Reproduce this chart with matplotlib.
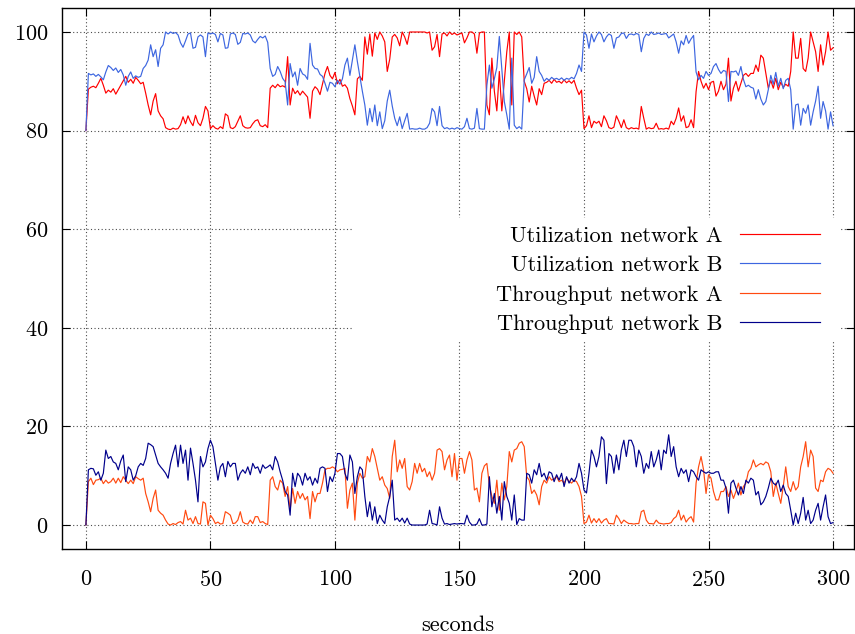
import numpy as np
import matplotlib
matplotlib.use("Agg")
import matplotlib.pyplot as plt
from matplotlib.patches import Rectangle

# tiempo en segundos (una muestra por segundo)
seconds = np.arange(301)

util_a = [
    80.0, 88.4, 88.8, 89.0, 88.7, 89.6, 90.6, 89.2, 87.6, 88.2,
    87.8, 88.5, 87.4, 88.3, 89.2, 90.1, 91.0, 89.8, 90.4, 89.6,
    90.8, 90.2, 89.5, 89.8, 87.6, 85.2, 83.2, 86.0, 87.5, 84.0,
    83.0, 82.4, 80.6, 80.3, 80.2, 80.5, 80.3, 80.4, 81.2, 82.8,
    81.4, 83.0, 81.8, 81.0, 83.1, 81.6, 81.0, 82.5, 84.9, 84.0,
    80.4, 81.0, 80.5, 80.3, 80.8, 80.4, 83.4, 83.0, 80.6, 80.4,
    80.8, 81.9, 83.0, 81.0, 80.6, 80.5, 80.6, 81.4, 82.0, 82.2,
    81.0, 80.8, 81.2, 80.6, 88.6, 89.2, 88.7, 89.4, 88.9, 89.1,
    88.8, 95.0, 85.2, 88.6, 87.5, 88.1, 87.2, 88.0, 87.4, 86.8,
    82.5, 88.0, 88.9, 88.4, 87.3, 89.5, 91.6, 93.0, 91.2, 90.5,
    91.8, 89.5, 90.4, 89.0, 89.3, 88.6, 86.5, 85.0, 83.2, 90.5,
    91.0, 90.2, 99.0, 95.5, 99.6, 95.1, 99.8, 98.5, 100.0, 99.2,
    98.0, 92.0, 94.5, 99.0, 99.5, 98.8, 97.2, 100.0, 99.0, 97.5,
    100.0, 100.0, 100.0, 100.0, 100.0, 100.0, 100.0, 99.8, 100.0, 96.3,
    97.0, 99.5, 95.0, 99.6, 99.8, 99.2, 100.0, 99.5, 99.8, 99.4,
    99.6, 99.8, 97.8, 98.8, 100.0, 100.0, 99.6, 95.7, 99.8, 100.0,
    100.0, 85.2, 83.2, 94.7, 88.0, 84.0, 92.0, 84.0, 90.0, 96.0,
    100.0, 85.2, 100.0, 99.5, 100.0, 99.0, 90.0, 88.5, 85.8, 89.0,
    87.0, 85.2, 88.5, 87.3, 89.6, 89.8, 90.2, 89.6, 90.4, 89.8,
    90.0, 89.6, 90.3, 89.7, 90.1, 89.6, 90.2, 88.6, 87.3, 88.2,
    80.4, 81.0, 83.0, 80.6, 81.9, 81.5, 81.9, 80.8, 83.0, 82.0,
    80.6, 80.4, 80.7, 83.0, 81.9, 80.6, 82.2, 80.6, 80.3, 80.6,
    80.4, 80.5, 80.3, 84.9, 82.5, 80.3, 80.6, 80.4, 80.5, 81.5,
    80.3, 80.4, 80.3, 80.5, 80.3, 81.9, 81.2, 82.5, 84.6, 81.9,
    83.0, 80.6, 80.8, 82.2, 80.6, 87.9, 92.0, 90.0, 88.6, 89.6,
    88.3, 89.8, 90.0, 87.0, 88.0, 90.0, 88.3, 89.4, 94.7, 86.0,
    88.6, 90.0, 88.0, 89.6, 91.2, 91.6, 91.0, 91.6, 91.6, 93.3,
    92.0, 95.3, 94.7, 91.6, 88.6, 90.2, 88.6, 90.6, 88.3, 89.8,
    88.8, 89.4, 89.0, 92.0, 100.0, 94.7, 94.7, 98.7, 92.6, 92.0,
    94.7, 100.0, 98.0, 96.0, 92.0, 97.4, 93.3, 96.0, 100.0, 96.3, 96.8,
]

util_b = [
    80.0, 91.6, 91.3, 91.5, 91.0, 91.4, 90.9, 90.3, 91.9, 93.2,
    92.8, 92.2, 92.7, 91.8, 92.4, 91.3, 89.2, 91.0, 91.9, 90.6,
    91.1, 90.8, 91.0, 92.6, 93.2, 94.3, 97.4, 95.0, 96.4, 93.0,
    96.7, 97.4, 100.0, 99.6, 100.0, 99.7, 99.9, 99.4, 97.8, 96.9,
    98.2, 99.6, 99.8, 96.7, 96.9, 99.0, 99.4, 99.0, 95.0, 99.8,
    99.6, 99.8, 99.5, 98.0, 99.7, 99.4, 96.7, 96.8, 99.6, 99.8,
    99.5, 97.5, 97.9, 99.7, 99.6, 99.8, 99.4, 98.2, 97.8, 98.5,
    99.1, 98.8, 99.2, 97.9, 92.6, 91.0, 91.4, 93.0, 92.0, 90.6,
    89.9, 85.2, 93.6, 90.9, 91.9, 89.2, 92.6, 91.5, 91.2, 90.4,
    97.7, 93.3, 92.6, 92.5, 91.4, 91.0, 89.6, 88.0, 89.8, 89.6,
    88.9, 90.2, 89.4, 90.5, 93.3, 94.7, 91.2, 94.3, 97.4, 94.0,
    91.0, 88.0, 85.2, 81.1, 84.5, 81.8, 85.2, 81.0, 83.8, 80.4,
    82.0, 86.0, 88.2, 85.0, 82.5, 81.0, 82.8, 80.4, 82.0, 83.5,
    80.3, 80.4, 80.3, 80.3, 80.5, 80.3, 80.3, 80.6, 81.5, 84.5,
    83.8, 81.0, 84.9, 81.0, 80.4, 80.6, 80.3, 80.5, 80.3, 80.6,
    80.4, 80.3, 80.8, 82.5, 80.4, 80.3, 80.5, 84.5, 80.4, 80.3,
    80.3, 89.2, 93.3, 88.6, 90.5, 92.8, 99.1, 92.6, 85.9, 83.2,
    80.3, 94.7, 81.1, 80.4, 80.8, 80.3, 90.3, 91.5, 92.8, 89.6,
    90.8, 95.0, 92.0, 91.2, 90.0, 90.6, 90.2, 90.8, 90.4, 90.6,
    90.3, 90.7, 90.2, 90.6, 90.4, 90.8, 90.5, 91.6, 93.3, 92.0,
    100.0, 99.4, 96.7, 99.6, 98.0, 99.2, 100.0, 99.5, 98.0, 99.0,
    99.6, 99.3, 96.7, 98.8, 99.0, 99.7, 99.8, 98.7, 99.5, 99.6,
    99.4, 99.7, 99.5, 96.0, 98.7, 99.6, 99.3, 100.0, 99.5, 99.6,
    99.8, 99.5, 99.6, 99.7, 98.8, 99.2, 99.6, 98.0, 95.7, 98.2,
    97.4, 99.3, 97.7, 98.6, 99.3, 91.9, 90.3, 91.2, 90.6, 92.0,
    91.2, 91.6, 93.0, 93.6, 92.4, 91.6, 92.2, 92.0, 85.9, 92.0,
    91.9, 92.1, 91.2, 93.0, 90.4, 88.9, 89.2, 88.8, 88.6, 86.4,
    88.3, 86.4, 85.2, 85.9, 88.3, 91.2, 89.4, 91.8, 89.0, 90.6,
    88.5, 90.2, 90.6, 88.3, 80.3, 85.2, 85.4, 81.1, 84.5, 83.5,
    85.2, 81.1, 83.8, 86.0, 89.0, 82.5, 85.9, 84.0, 80.3, 83.8, 81.0,
]

thr_a = [
    0.0, 8.8, 9.5, 8.2, 9.1, 9.2, 9.5, 8.4, 9.1, 8.5,
    8.8, 9.5, 8.5, 9.5, 8.6, 9.8, 9.1, 8.4, 9.1, 8.4,
    9.8, 9.4, 9.1, 9.5, 6.4, 4.7, 2.7, 5.4, 7.1, 3.0,
    2.4, 2.0, 1.0, 0.2, 0.0, 0.3, 0.1, 0.5, 0.7, 0.2,
    3.0, 1.0, 1.4, 0.3, 1.7, 0.3, 0.2, 4.7, 4.4, 0.0,
    2.0, 1.3, 0.3, 0.6, 0.2, 0.3, 2.7, 2.4, 2.0, 0.3,
    0.4, 1.0, 2.7, 0.6, 0.3, 0.2, 1.0, 0.3, 1.7, 1.7,
    0.5, 0.7, 0.3, 0.1, 9.1, 9.8, 7.8, 7.1, 9.1, 8.5,
    5.8, 7.8, 3.0, 7.4, 4.4, 6.8, 5.4, 6.4, 5.1, 5.8,
    1.3, 6.8, 4.7, 6.4, 6.4, 8.5, 11.2, 11.5, 11.5, 11.8,
    11.5, 10.8, 11.2, 11.3, 11.5, 3.4, 7.1, 8.5, 1.0, 8.5,
    10.5, 9.5, 9.8, 13.9, 12.8, 15.5, 13.9, 11.5, 9.1, 9.8,
    8.1, 7.4, 5.4, 13.9, 17.2, 10.8, 13.2, 11.5, 13.5, 7.8,
    7.1, 8.8, 12.5, 10.5, 12.5, 10.8, 11.5, 9.8, 10.8, 9.1,
    10.5, 15.2, 15.5, 14.9, 11.2, 13.2, 14.2, 9.8, 14.5, 9.1,
    13.5, 13.5, 10.5, 13.2, 14.9, 13.2, 7.1, 7.5, 4.7, 10.5,
    12.0, 12.5, 8.1, 5.8, 4.4, 9.1, 3.0, 8.5, 5.1, 7.8,
    14.9, 12.8, 15.2, 15.5, 16.6, 16.9, 15.9, 9.8, 9.1, 6.4,
    7.1, 6.1, 4.1, 7.8, 9.1, 8.5, 9.8, 9.1, 9.4, 9.8,
    8.8, 9.1, 8.5, 9.5, 8.9, 8.5, 9.1, 8.8, 7.8, 5.8,
    0.3, 0.6, 2.0, 0.4, 1.3, 0.5, 1.3, 0.4, 1.0, 1.3,
    0.3, 0.3, 0.2, 2.0, 1.3, 0.3, 1.0, 0.6, 0.3, 0.3,
    0.2, 0.3, 0.3, 2.7, 3.0, 1.0, 0.3, 0.3, 0.2, 1.0,
    0.4, 0.3, 0.2, 0.3, 0.3, 0.5, 1.3, 1.7, 3.0, 1.0,
    2.0, 0.6, 1.3, 1.7, 0.6, 8.5, 11.8, 13.9, 11.2, 6.4,
    10.2, 9.5, 6.8, 5.1, 5.1, 6.8, 6.8, 7.8, 5.8, 7.1,
    5.4, 6.8, 8.5, 6.1, 7.8, 8.5, 10.8, 11.5, 13.2, 11.8,
    12.2, 12.5, 12.2, 12.8, 12.5, 10.8, 5.8, 8.5, 6.4, 4.4,
    7.8, 11.8, 7.8, 6.8, 8.8, 7.1, 7.8, 11.8, 13.9, 16.9,
    11.8, 15.2, 13.9, 7.5, 6.8, 9.1, 8.8, 10.8, 11.5, 11.2, 10.5,
]

thr_b = [
    0.0, 11.2, 11.5, 11.4, 10.1, 10.8, 9.1, 10.5, 15.2, 13.5,
    13.9, 12.8, 12.5, 11.2, 13.0, 14.2, 8.8, 11.8, 11.2, 9.1,
    10.0, 11.8, 12.5, 12.1, 13.5, 16.6, 16.3, 15.9, 14.2, 12.5,
    11.8, 11.2, 10.5, 9.5, 12.5, 14.5, 16.2, 11.8, 16.2, 12.5,
    15.2, 9.1, 15.6, 12.5, 9.1, 4.7, 13.9, 11.8, 12.8, 15.5,
    17.2, 15.9, 12.5, 9.1, 11.8, 12.5, 9.8, 12.9, 11.8, 12.5,
    12.5, 9.1, 10.5, 11.2, 10.5, 11.8, 10.2, 12.5, 11.5, 11.8,
    10.5, 12.2, 11.5, 11.8, 12.2, 11.2, 13.9, 12.8, 10.8, 9.1,
    6.8, 6.1, 2.0, 10.5, 7.8, 10.5, 9.8, 8.1, 10.5, 9.1,
    9.8, 8.1, 9.5, 8.5, 11.5, 11.8, 11.5, 6.8, 9.8, 8.8,
    10.5, 14.5, 14.5, 13.9, 10.5, 9.1, 14.2, 12.8, 6.4, 9.8,
    11.8, 11.2, 5.8, 1.7, 4.7, 1.0, 3.7, 0.3, 2.0, 1.0,
    0.3, 3.7, 5.8, 9.1, 1.0, 1.4, 0.7, 1.4, 0.4, 1.4,
    0.2, 0.0, 0.0, 0.0, 0.0, 0.0, 0.0, 0.2, 3.0, 0.3,
    0.2, 0.0, 3.7, 1.4, 0.2, 0.3, 0.1, 0.2, 0.3, 0.2,
    0.3, 0.3, 0.2, 2.0, 0.6, 0.0, 0.0, 0.2, 1.3, 0.0,
    0.0, 0.2, 9.8, 3.7, 6.4, 2.4, 5.8, 1.0, 8.8, 5.8,
    4.4, 1.0, 6.1, 0.1, 1.3, 1.0, 1.0, 10.5, 10.2, 8.5,
    11.2, 10.2, 12.5, 9.8, 10.5, 9.1, 10.8, 10.5, 8.8, 10.2,
    9.1, 10.5, 7.8, 9.8, 8.5, 9.5, 8.8, 9.8, 12.5, 10.5,
    7.1, 6.5, 10.5, 15.2, 13.9, 11.8, 13.9, 17.9, 17.2, 8.4,
    14.5, 13.9, 10.5, 14.2, 11.2, 15.2, 17.2, 13.9, 17.2, 17.2,
    15.9, 11.8, 15.2, 13.9, 10.5, 12.5, 11.5, 14.9, 11.8, 13.2,
    15.2, 11.2, 15.2, 14.5, 18.3, 13.9, 15.9, 11.8, 9.8, 11.5,
    10.5, 11.2, 8.8, 11.2, 10.8, 9.8, 9.1, 11.2, 10.8, 10.5,
    10.8, 10.5, 10.5, 10.8, 10.8, 9.1, 9.1, 7.5, 2.4, 8.5,
    9.1, 7.5, 6.1, 7.8, 6.4, 9.1, 8.5, 9.5, 9.1, 6.1,
    6.8, 4.1, 4.7, 5.8, 7.5, 9.5, 8.5, 8.1, 9.1, 6.8,
    8.1, 6.4, 5.8, 3.0, 0.0, 2.4, 0.3, 2.4, 5.6, 1.0,
    3.0, 0.3, 1.0, 3.0, 4.4, 1.0, 3.7, 6.1, 1.7, 0.3, 0.5,
]

series = [
    (util_a, "Utilization network A", "#ff0000"),
    (util_b, "Utilization network B", "#3d66e0"),
    (thr_a, "Throughput network A", "#ff4a10"),
    (thr_b, "Throughput network B", "#00008b"),
]
x_ticks = [0, 50, 100, 150, 200, 250, 300]
y_ticks = [0, 20, 40, 60, 80, 100]

plt.rcParams["font.family"] = ["cmr10", "DejaVu Serif"]
plt.rcParams["mathtext.fontset"] = "cm"
plt.rcParams["axes.formatter.use_mathtext"] = True

fig = plt.figure(figsize=(8.55, 6.34), dpi=100)
ax = fig.add_axes([0.0725, 0.134, 0.9263, 0.8534])

for values, label, color in series:
    ax.plot(seconds, values, color=color, lw=0.85, label=label)

ax.set_xlim(-9.6, 308.4)
ax.set_ylim(-4.87, 104.87)
ax.set_xticks(x_ticks)
ax.set_yticks(y_ticks)
ax.grid(True, color="0.3", linestyle=(0, (1, 2.2)), lw=0.8)
ax.set_axisbelow(True)
ax.tick_params(direction="in", top=True, right=True, length=6, width=0.8,
               labelsize=16)
ax.tick_params(axis="x", pad=15)
ax.tick_params(axis="y", pad=10)
for sp in ax.spines.values():
    sp.set_linewidth(1.0)

ax.set_xlabel("seconds", fontsize=16, va="center")
ax.xaxis.set_label_coords(0.5, -0.1405)

# caja blanca de la leyenda (tapa la grilla como en gnuplot)
ax.add_patch(Rectangle((0.366, 0.386), 0.616, 0.226, transform=ax.transAxes,
                       facecolor="white", edgecolor="none", zorder=1.5))

leg = ax.legend(loc="center right", bbox_to_anchor=(0.957, 0.497),
                frameon=False, markerfirst=False, fontsize=16,
                handlelength=3.6, handletextpad=0.8, labelspacing=0.44,
                borderpad=0, borderaxespad=0)
leg.set_zorder(3)

fig.savefig("out.png", dpi=100)
